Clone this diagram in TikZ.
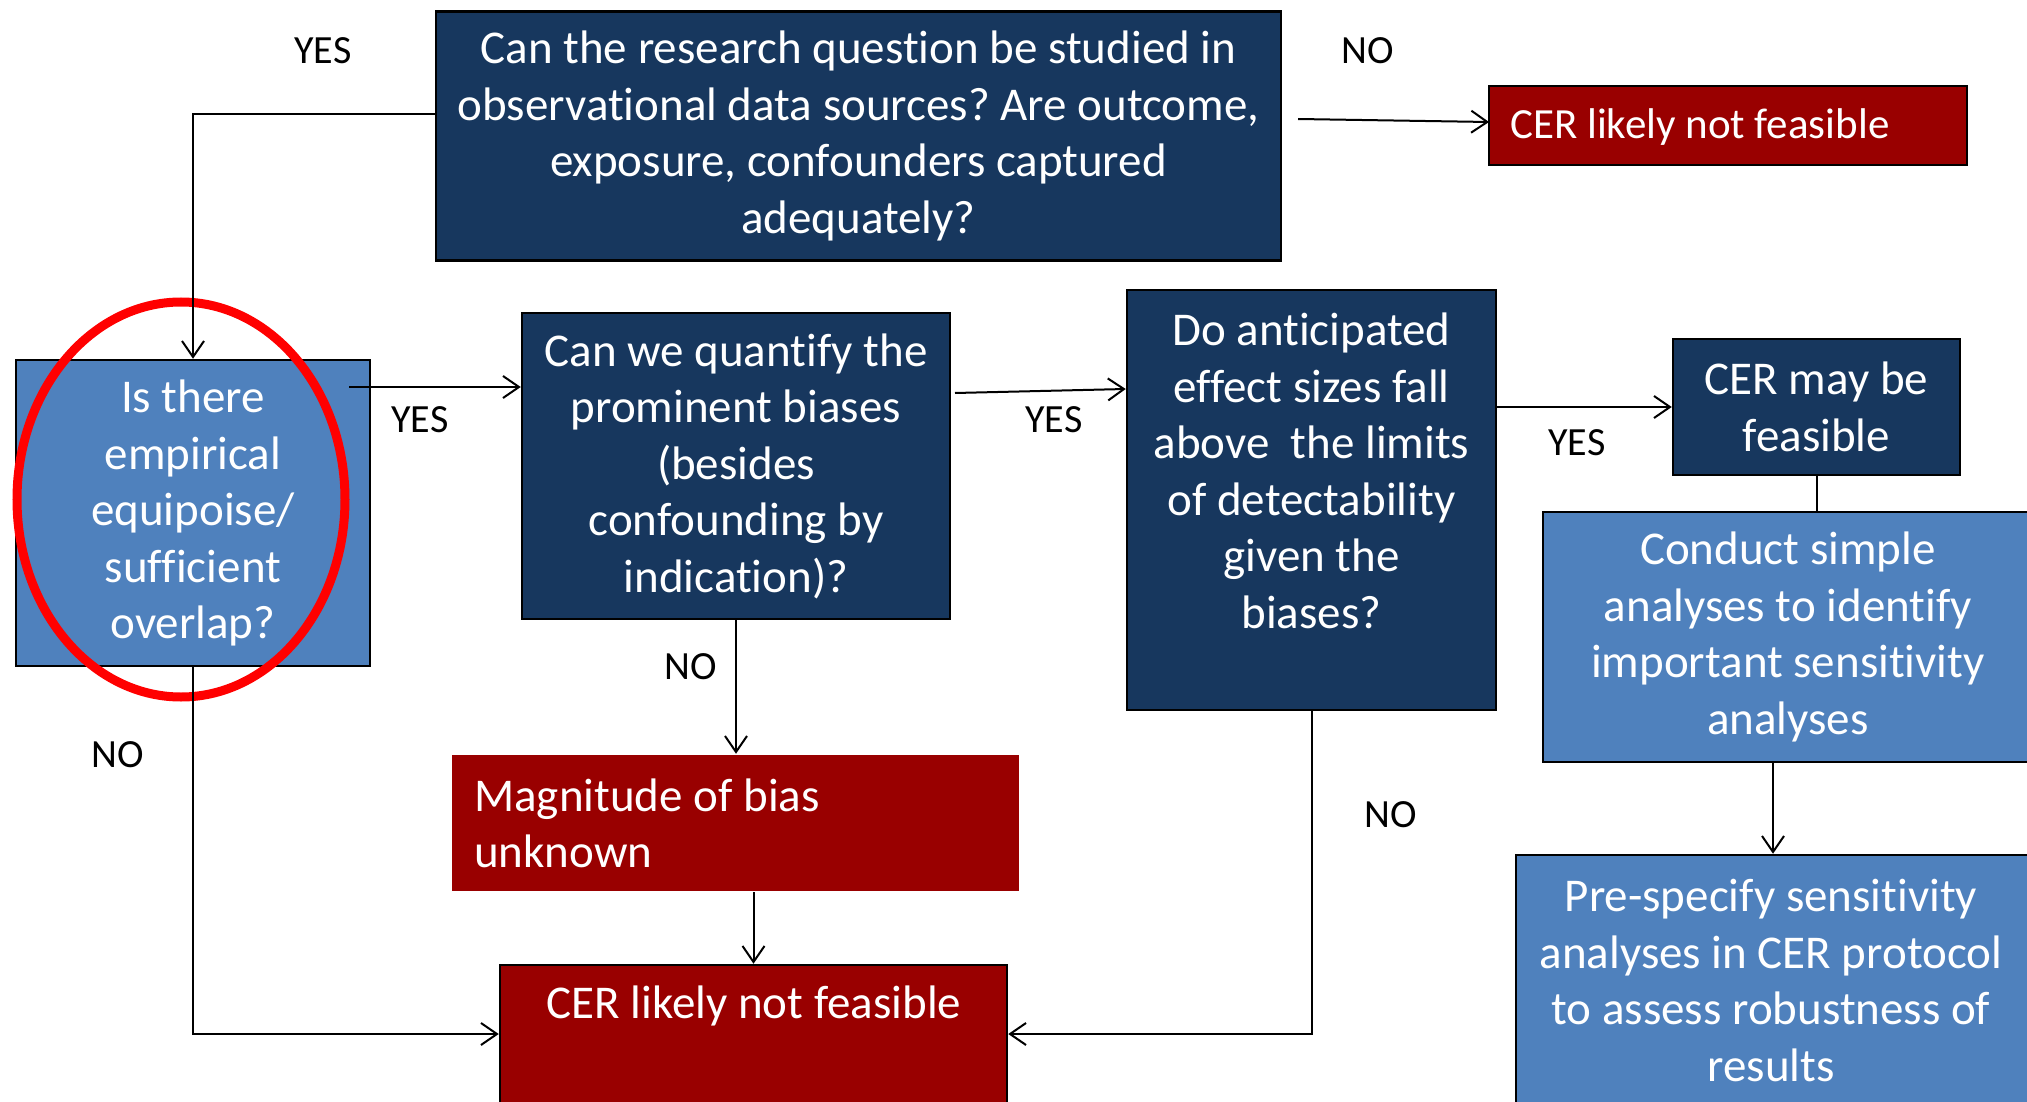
\documentclass[tikz,border=0pt]{standalone}
\usepackage{fontspec}
\setmainfont{Carlito}[Ligatures={NoCommon}]
\usetikzlibrary{arrows.meta,shapes.geometric}
\definecolor{navy}{HTML}{17375E}
\definecolor{lblue}{HTML}{4F81BD}
\definecolor{dred}{HTML}{990000}
\frenchspacing
\begin{document}
\begin{tikzpicture}[x=1pt,y=-1pt,
  box/.style={draw=black, line width=2.5pt, inner sep=0pt, text=white, align=center, font=\fontsize{47}{56.5}\selectfont},
  txt/.style={text=white, inner sep=0pt, font=\fontsize{47}{56.5}\selectfont},
  lab/.style={text=black, inner sep=0pt, font=\fontsize{40}{48}\selectfont},
  conn/.style={draw=black, line width=2pt},
  arr/.style={conn, -{Straight Barb[length=16pt,width=22pt]}}]
\useasboundingbox (0,0) rectangle (2027,1102);
\fill[white] (0,0) rectangle (2027,1102);
\clip (0,0) rectangle (2027,1102);

% boxes
\node[box, fill=navy, minimum width=845pt, minimum height=249pt] (Q1) at (858.5,136)
  {Can the research question be studied in\\observational data sources? Are outcome,\\exposure, confounders captured\\adequately?};
\node[box, fill=dred, minimum width=478pt, minimum height=79pt] (R1) at (1728,125.5) {};
\node[txt, anchor=west, font=\fontsize{43}{50}\selectfont] (R1t) at (1510,127) {CER likely not feasible};

\node[box, fill=lblue, minimum width=354pt, minimum height=306pt] (B1) at (193,513)
  {Is there\\empirical\\equipoise/\\sufficient\\overlap?};
\node[box, fill=navy, minimum width=428pt, minimum height=306pt] (Q2) at (736,466)
  {Can we quantify the\\prominent biases\\(besides\\confounding by\\indication)?};
\node[box, fill=navy, minimum width=369pt, minimum height=420pt] (Q3) at (1311.5,500) {};
\node[txt, align=center] (Q3t) at (1311.5,471)
  {Do anticipated\\effect sizes fall\\above\ \ the limits\\of detectability\\given the\\biases?};
\node[box, fill=navy, minimum width=287pt, minimum height=136pt] (may) at (1816.5,407)
  {CER may be\\feasible};
\node[box, fill=lblue, minimum width=490pt, minimum height=250pt] (cond) at (1788,637)
  {Conduct simple\\analyses to identify\\important sensitivity\\analyses};
\node[box, fill=lblue, minimum width=514pt, minimum height=260pt] (pre) at (1773,985) {};
\node[txt, align=center] (pret) at (1771,980.5)
  {Pre-specify sensitivity\\analyses in CER protocol\\to assess robustness of\\results};
\node[box, draw=none, fill=dred, minimum width=567pt, minimum height=136pt] (mag) at (735.5,823) {};
\node[txt, align=left, anchor=west] (magt) at (474,823.5) {Magnitude of bias\\unknown};
\node[box, fill=dred, minimum width=507pt, minimum height=150pt] (cer2) at (753.5,1040) {};
\node[txt] (cer2t) at (754,1006) {CER likely not feasible};

% highlight ellipse
\node[ellipse, draw=red, line width=9pt, minimum width=328pt, minimum height=395pt, inner sep=0pt] (hl) at (181,499.5) {};

% coordinates
\coordinate (c1) at (193,114);
\coordinate (q1out) at (1298,119);
\coordinate (r1in) at (1489,122);
\coordinate (b1out) at (349,387);
\coordinate (q2out) at (955,393);
\coordinate (lowy) at (0,1034);

% connectors
\draw[arr] (Q1.west |- c1) -| (B1.north);
\draw[arr] (q1out) -- (r1in);
\draw[arr] (b1out) -- (Q2.west |- b1out);
\draw[arr] (q2out) -- ([yshift=4pt]Q3.west |- q2out);
\draw[arr] (Q3.east |- may.west) -- (may.west);
\draw[conn] (may.south) -- (may.south |- cond.north);
\draw[arr] (pre.north |- cond.south) -- (pre.north);
\draw[arr] (Q2.south) -- (Q2.south |- mag.north);
\draw[arr] (cer2.north |- mag.south) -- (cer2.north);
\draw[arr] (Q3.south) |- (cer2.east |- lowy);
\draw[arr] (B1.south) |- (cer2.west |- lowy);

% labels
\node[lab] (y1) at (323,51) {YES};
\node[lab] (n1) at (1368,51) {NO};
\node[lab] (y2) at (420,420) {YES};
\node[lab] (y3) at (1054,420) {YES};
\node[lab] (y4) at (1577,443) {YES};
\node[lab] (n2) at (691,667) {NO};
\node[lab] (n3) at (118,755) {NO};
\node[lab] (n4) at (1391,815) {NO};
\end{tikzpicture}
\end{document}
